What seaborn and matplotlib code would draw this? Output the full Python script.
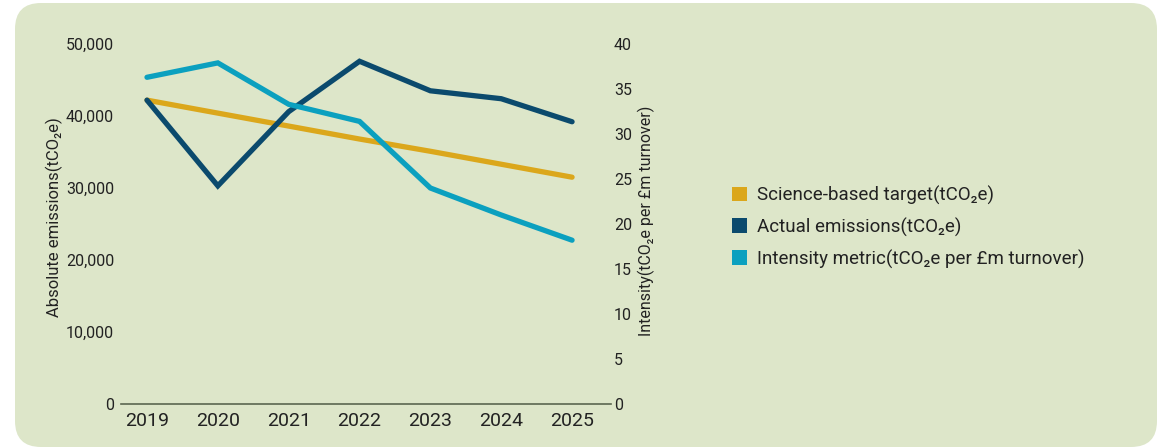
import matplotlib
matplotlib.use("Agg")
import matplotlib.pyplot as plt
import seaborn as sns
import pandas as pd
from matplotlib.patches import FancyBboxPatch, Patch

years = ["2019", "2020", "2021", "2022", "2023", "2024", "2025"]
science_target = [42200, 40400, 38600, 36800, 35100, 33300, 31500]
actual_emissions = [42200, 30300, 40600, 47600, 43500, 42400, 39200]
intensity = [36.3, 37.9, 33.3, 31.4, 24.0, 21.0, 18.2]

left_ticks = [0, 10000, 20000, 30000, 40000, 50000]
right_ticks = [0, 5, 10, 15, 20, 25, 30, 35, 40]

C_GOLD = "#dba71b"
C_NAVY = "#0b4a6d"
C_TEAL = "#0ba0bf"
BG = "#dde6c9"
TXT = "#222222"

sns.set_theme(style="white")
plt.rcParams["font.family"] = ["Roboto", "DejaVu Sans"]

df = pd.DataFrame({"x": range(len(years)), "target": science_target,
                   "actual": actual_emissions, "intensity": intensity})

fig = plt.figure(figsize=(11.69, 4.48), dpi=100)
fig.patch.set_facecolor("white")
bgpatch = FancyBboxPatch((0.15, 0.01), 11.42, 4.44,
                         boxstyle="round,pad=0,rounding_size=0.26",
                         transform=fig.dpi_scale_trans, facecolor=BG,
                         edgecolor="none", zorder=-10)
fig.patches.append(bgpatch)

ax = fig.add_axes([0.1035, 0.0982, 0.4192, 0.8036])
ax.set_facecolor("none")
ax2 = ax.twinx()

lw = 3.8
sns.lineplot(data=df, x="x", y="target", ax=ax, color=C_GOLD, linewidth=lw,
             solid_capstyle="round", solid_joinstyle="miter")
sns.lineplot(data=df, x="x", y="actual", ax=ax, color=C_NAVY, linewidth=lw,
             solid_capstyle="round", solid_joinstyle="miter")
sns.lineplot(data=df, x="x", y="intensity", ax=ax2, color=C_TEAL, linewidth=lw,
             solid_capstyle="round", solid_joinstyle="miter")

ax.set_xlim(-0.367, 6.55)
ax.set_ylim(0, 50000)
ax2.set_ylim(0, 40)
ax.set_xticks(range(len(years)))
ax.set_xticklabels(years)
ax.set_yticks(left_ticks)
ax.set_yticklabels([f"{v:,}" for v in left_ticks])
ax2.set_yticks(right_ticks)
ax2.set_yticklabels([str(v) for v in right_ticks])

for a in (ax, ax2):
    for s in ("top", "left", "right", "bottom"):
        a.spines[s].set_visible(False)
    a.grid(False)
ax.spines["bottom"].set_visible(True)
ax.spines["bottom"].set_color("#5b6650")
ax.spines["bottom"].set_linewidth(1.2)

ax.tick_params(axis="x", length=0, pad=6, labelsize=14, labelcolor=TXT)
ax.tick_params(axis="y", length=0, pad=5, labelsize=11.5, labelcolor=TXT)
ax2.tick_params(axis="y", length=0, pad=2, labelsize=11.5, labelcolor=TXT)

ax.set_xlabel("")
ax.set_ylabel("Absolute emissions(tCO\u2082e)", fontsize=12, color=TXT)
ax2.set_ylabel("Intensity(tCO\u2082e per £m turnover)", fontsize=11.5, color=TXT)
ax.yaxis.set_label_coords(-0.118, 0.52)
ax2.yaxis.set_label_coords(1.054, 0.51)

handles = [Patch(facecolor=C_GOLD, edgecolor="none"),
           Patch(facecolor=C_NAVY, edgecolor="none"),
           Patch(facecolor=C_TEAL, edgecolor="none")]
labels = ["Science-based target(tCO\u2082e)", "Actual emissions(tCO\u2082e)",
          "Intensity metric(tCO\u2082e per £m turnover)"]
leg = fig.legend(handles, labels, loc="upper left", bbox_to_anchor=(0.618, 0.607),
                 frameon=False, fontsize=13.5, handlelength=0.82, handleheight=0.82,
                 handletextpad=0.5, labelspacing=0.68, borderpad=0)
for t in leg.get_texts():
    t.set_color(TXT)

fig.savefig("out.png", dpi=100, facecolor=fig.get_facecolor())
